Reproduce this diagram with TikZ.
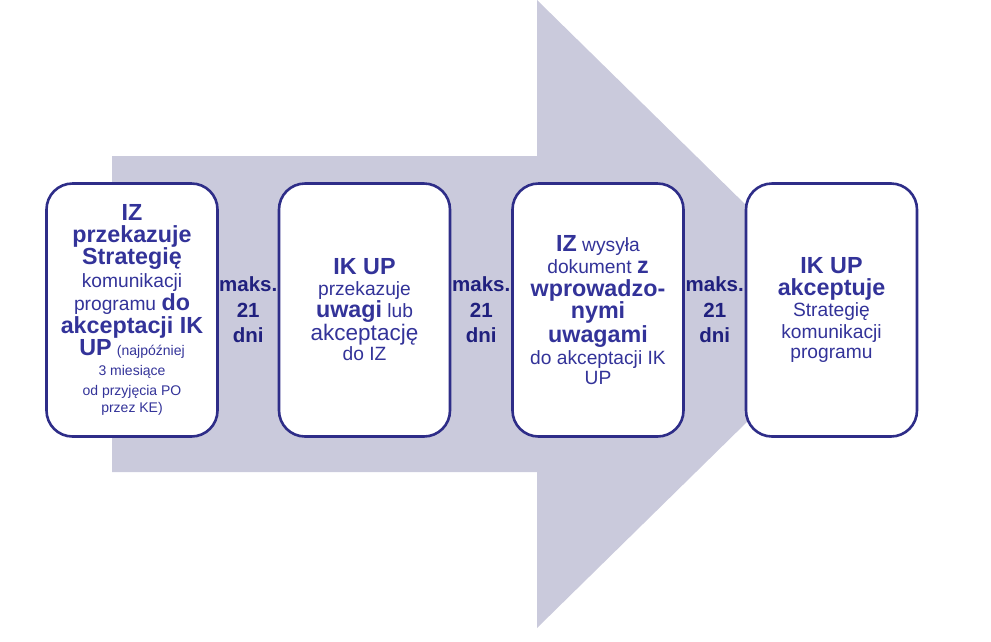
\documentclass[tikz,border=0pt]{standalone}
\usepackage{fontspec}
\setmainfont{Liberation Sans}
\usetikzlibrary{calc}
\definecolor{arrowfill}{HTML}{CACADC}
\definecolor{boxline}{HTML}{2E2D88}
\definecolor{boxtext}{HTML}{333399}
\definecolor{makstext}{HTML}{20207E}
\newcommand{\Bg}[1]{{\fontsize{23.3}{22}\selectfont\bfseries #1}}
\newcommand{\Rg}[1]{{\fontsize{19.2}{22}\selectfont #1}}
\newcommand{\Sm}[1]{{\fontsize{14}{22}\selectfont #1}}
\begin{document}
\begin{tikzpicture}[x=1pt,y=-1pt,
  stepbox/.style={draw=boxline, line width=2.6pt, fill=white, rounded corners=26pt,
    minimum width=171pt, minimum height=253pt, inner sep=0pt, align=center,
    text=boxtext, font=\fontsize{19.2}{22.5}\selectfont},
  makslabel/.style={text=makstext, align=center, inner sep=0pt,
    font=\fontsize{20.5}{25.5}\selectfont\bfseries}]
\useasboundingbox (0,0) rectangle (991,641);
% big arrow
\fill[arrowfill] (112,156) -- (537,156) -- (537,0) -- (857,314) -- (537,628) -- (537,472) -- (112,472) -- cycle;
% boxes
\node[stepbox] (b1) at (132,310) {\Bg{IZ}\\\Bg{przekazuje}\\[-1pt]\Bg{Strategię}\\[1pt]\Rg{komunikacji}\\\Rg{programu} \Bg{do}\\[1pt]\Bg{akceptacji IK}\\[-1pt]\Bg{UP} \Sm{(najpóźniej}\\[-2pt]\Sm{3 miesiące}\\[-3pt]\Sm{od przyjęcia PO}\\[-5pt]\Sm{przez KE)}};
\node[stepbox] (b2) at (364.5,310) {\Bg{IK UP}\\[-2pt]\Rg{przekazuje}\\\Bg{uwagi} \Rg{lub}\\\Rg{\fontsize{22.5}{22}\selectfont akceptację}\\[-2pt]\Rg{do IZ}};
\node[stepbox] (b3) at (598,310) {\Bg{IZ} \Rg{wysyła}\\\Rg{dokument} \Bg{z}\\\Bg{wprowadzo-}\\\Bg{nymi}\\[1pt]\Bg{uwagami}\\\Rg{do akceptacji IK}\\[-3pt]\Rg{UP}};
\node[stepbox] (b4) at (831.5,310) {\Bg{IK UP}\\[-1pt]\Bg{akceptuje}\\[-1pt]\Rg{Strategię}\\[-1pt]\Rg{komunikacji}\\[-2pt]\Rg{programu}};
% durations
\node[makslabel] (m1) at ($(b1.east)!0.5!(b2.west)$) {maks.\\21\\dni};
\node[makslabel] (m2) at ($(b2.east)!0.5!(b3.west)$) {maks.\\21\\dni};
\node[makslabel] (m3) at ($(b3.east)!0.5!(b4.west)$) {maks.\\21\\dni};
\end{tikzpicture}
\end{document}
